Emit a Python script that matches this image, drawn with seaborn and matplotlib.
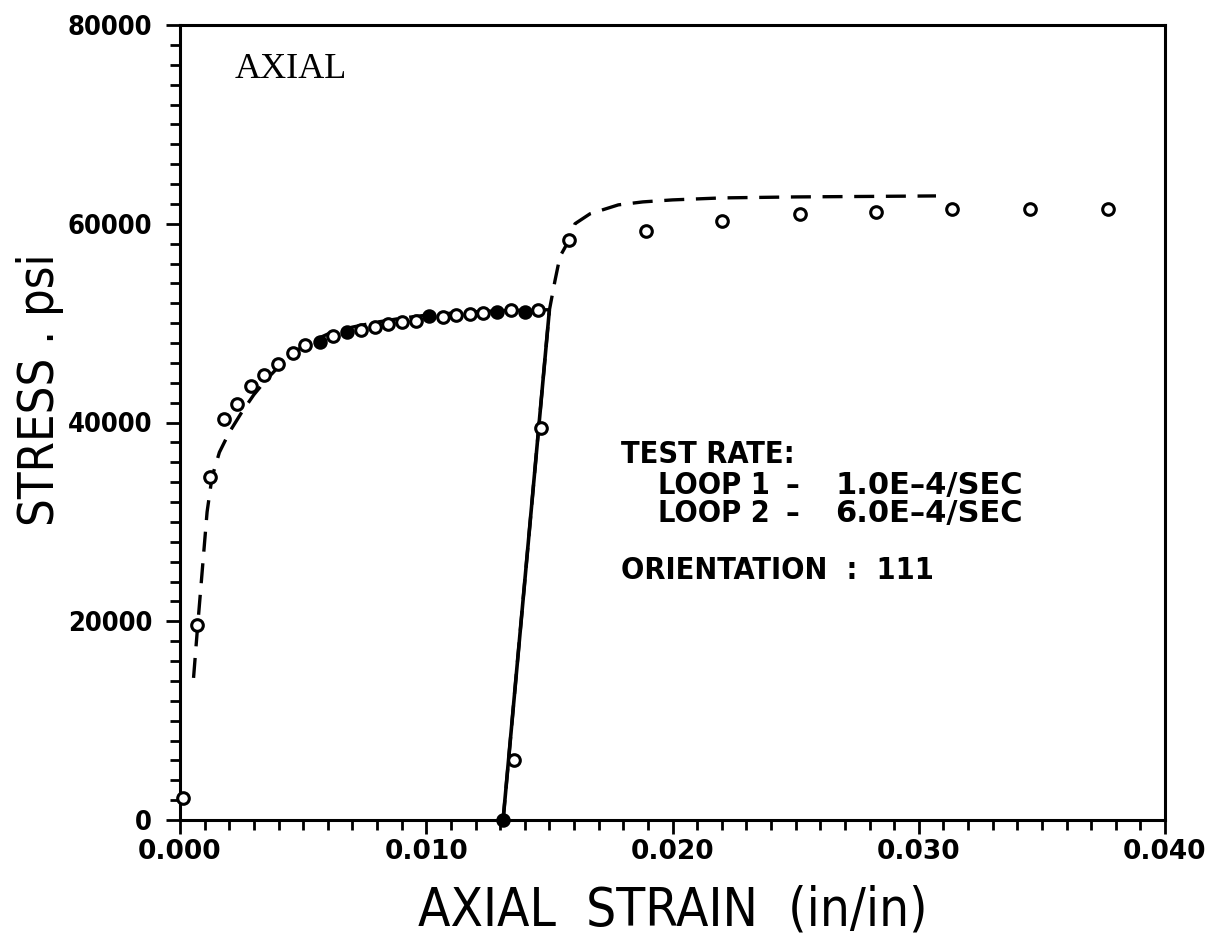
import numpy as np
import pandas as pd
import matplotlib
matplotlib.use("Agg")
import matplotlib.pyplot as plt
from matplotlib.ticker import MultipleLocator, FixedLocator
import seaborn as sns

# ---------------- data ----------------
# Loop 1 measured points (strain in/in, stress psi)
loop1_strain = [0.00012, 0.00068, 0.00122, 0.00179, 0.00233, 0.00287, 0.00342, 0.00397,
                0.00458, 0.00509, 0.00569, 0.00620, 0.00680, 0.00734, 0.00792, 0.00846,
                0.00900, 0.00957, 0.01013, 0.01067, 0.01121, 0.01178, 0.01232, 0.01289,
                0.01343, 0.01401, 0.01455]
loop1_stress = [2200, 19600, 34500, 40350, 41830, 43670, 44780, 45890,
                46960, 47800, 48130, 48700, 49140, 49310, 49640, 49900,
                50080, 50180, 50720, 50650, 50820, 50890, 51050, 51150,
                51320, 51150, 51320]
loop1_filled = [0, 0, 0, 0, 0, 0, 0, 0,
                0, 0, 1, 0, 1, 0, 0, 0,
                0, 0, 1, 0, 0, 0, 0, 1,
                0, 1, 0]

# Loop 2 measured points
loop2_strain = [0.01312, 0.01356, 0.01466, 0.01581, 0.01891, 0.02202, 0.02516, 0.02826,
                0.03137, 0.03453, 0.03767]
loop2_stress = [0, 6000, 39450, 58400, 59300, 60300, 61000, 61200,
                61500, 61450, 61500]
loop2_filled = [1, 0, 0, 0, 0, 0, 0, 0, 0, 0, 0]

# Model (dashed) curve, loop 1
model1_strain = [0.00055, 0.00070, 0.00090, 0.00110, 0.00130, 0.00160, 0.00200, 0.00250,
                 0.00300, 0.00350, 0.00400, 0.00460, 0.00520, 0.00600, 0.00700, 0.00800,
                 0.00900, 0.01000, 0.01100, 0.01200, 0.01300, 0.01400, 0.01500]
model1_stress = [14300, 19000, 25000, 31000, 34500, 37000, 39000, 41000,
                 42800, 44300, 45600, 47000, 48000, 48900, 49600, 50100,
                 50500, 50800, 51000, 51150, 51250, 51300, 51350]

# Model (dashed) curve, loop 2
model2_strain = [0.01312, 0.01500, 0.01523, 0.01543, 0.01581, 0.01604, 0.01665, 0.01780,
                 0.01880, 0.02000, 0.02200, 0.02500, 0.02800, 0.03070]
model2_stress = [0, 51300, 54300, 56700, 58400, 60000, 61000, 61900,
                 62200, 62400, 62600, 62700, 62750, 62800]

# Measured elastic reload line of loop 2 (solid)
reload_strain = [0.01312, 0.01500]
reload_stress = [0, 51300]

x_ticks = [0.000, 0.010, 0.020, 0.030, 0.040]
x_ticklabels = ["0.000", "0.010", "0.020", "0.030", "0.040"]
y_ticks = [0, 20000, 40000, 60000, 80000]
y_ticklabels = ["0", "20000", "40000", "60000", "80000"]

loop_names = ["LOOP 1", "LOOP 2"]
loop_rates = ["1.0E\u20134/SEC", "6.0E\u20134/SEC"]

# ---------------- style ----------------
sns.set_theme(style="ticks")
plt.rcParams["font.family"] = ["DejaVu Sans"]
plt.rcParams["text.color"] = "black"
plt.rcParams["axes.labelcolor"] = "black"

fig = plt.figure(figsize=(12.05, 9.43), dpi=100)
ax = fig.add_axes([180/1205, 1 - 820/943, (1165-180)/1205, (820-25)/943])

dash = (6, 3.5)
lw = 2.4

m1 = pd.DataFrame({"strain": model1_strain, "stress": model1_stress})
m2 = pd.DataFrame({"strain": model2_strain, "stress": model2_stress})
rl = pd.DataFrame({"strain": reload_strain, "stress": reload_stress})
sns.lineplot(data=m1, x="strain", y="stress", ax=ax, color="black", lw=lw,
             sort=False, estimator=None, dashes=False)
sns.lineplot(data=m2, x="strain", y="stress", ax=ax, color="black", lw=lw,
             sort=False, estimator=None, dashes=False)
for ln in ax.lines:
    ln.set_dashes(dash)
sns.lineplot(data=rl, x="strain", y="stress", ax=ax, color="black", lw=2.6,
             sort=False, estimator=None)

pts = pd.DataFrame({
    "strain": loop1_strain + loop2_strain,
    "stress": loop1_stress + loop2_stress,
    "filled": loop1_filled + loop2_filled,
})
open_pts = pts[pts["filled"] == 0]
fill_pts = pts[pts["filled"] == 1]
sns.scatterplot(data=open_pts, x="strain", y="stress", ax=ax, marker="o", s=70,
                facecolor="white", edgecolor="black", linewidth=2.2, zorder=5, clip_on=False)
sns.scatterplot(data=fill_pts, x="strain", y="stress", ax=ax, marker="o", s=80,
                color="black", edgecolor="black", linewidth=1.5, zorder=5, clip_on=False)

ax.set_xlim(0, 0.040)
ax.set_ylim(0, 80000)
ax.xaxis.set_major_locator(FixedLocator(x_ticks))
ax.yaxis.set_major_locator(FixedLocator(y_ticks))
ax.xaxis.set_minor_locator(MultipleLocator(0.001))
ax.yaxis.set_minor_locator(MultipleLocator(2000))
ax.set_xticklabels(x_ticklabels)
ax.set_yticklabels(y_ticklabels)

for sp in ax.spines.values():
    sp.set_visible(True)
    sp.set_color("black")
    sp.set_linewidth(2.2)

ax.tick_params(axis="both", which="major", direction="out", length=10, width=2,
               color="black", labelcolor="black", top=False, right=False)
ax.tick_params(axis="both", which="minor", direction="out", length=7, width=2,
               color="black", top=False, right=False)
ax.tick_params(axis="x", which="major", labelsize=19, pad=4)
ax.tick_params(axis="y", which="major", labelsize=19.5, pad=10)
for lab in ax.get_xticklabels():
    lab.set_fontweight("bold")
for lab in ax.get_yticklabels():
    lab.set_fontweight("bold")
    lab.set_fontstretch("condensed")

ax.set_xlabel("AXIAL  STRAIN  (in/in)", fontsize=38, fontstretch="condensed",
              color="black", labelpad=14)
ax.set_ylabel("STRESS . psi", fontsize=35, fontstretch="condensed",
              color="black")
ax.yaxis.set_label_coords(-0.118, 0.541)

ax.text(0.0022, 75500, "AXIAL", fontsize=26, family="Liberation Serif",
        color="black", ha="left", va="center")

txt_kw = dict(fontsize=22, fontstretch="condensed", fontweight="bold",
              color="black", ha="left", va="center")
ax.text(0.01790, 36800, "TEST RATE:", **txt_kw)
for name, rate, yy in zip(loop_names, loop_rates, [33700, 30800]):
    ax.text(0.01941, yy, name, **txt_kw)
    ax.text(0.02460, yy, "\u2013", **txt_kw)
    ax.text(0.02660, yy, rate, fontsize=22, fontweight="bold", color="black",
            ha="left", va="center")
ax.text(0.01790, 25100, "ORIENTATION  :  111", **txt_kw)

ax.grid(False)
fig.savefig("out.png", dpi=100, facecolor="white")
